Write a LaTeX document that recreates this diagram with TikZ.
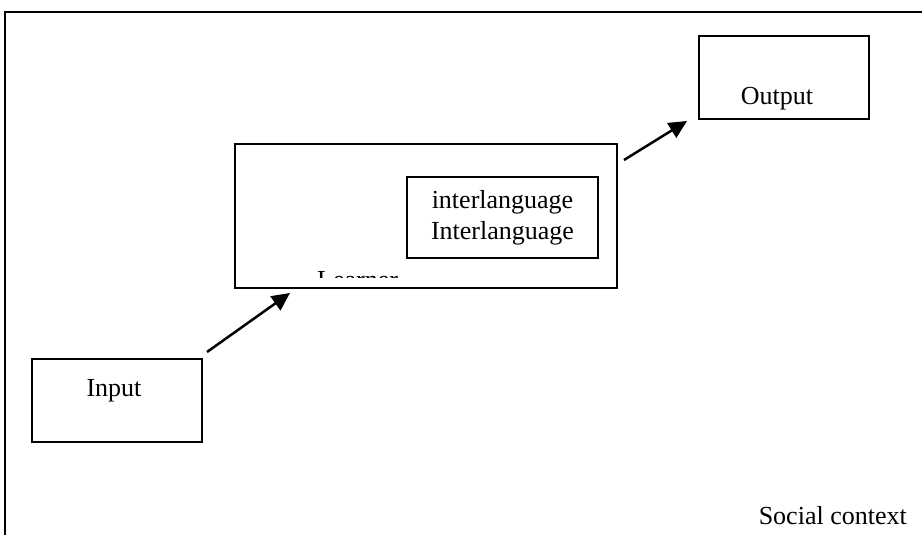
\documentclass[tikz,border=0pt]{standalone}
\usepackage{fontspec}
\setmainfont{Liberation Serif}
\usepackage{tikz}
\usetikzlibrary{arrows.meta,positioning}
\tikzset{
  frameline/.style={black, line width=1.5pt},
  boxnode/.style={draw=black, line width=2pt, inner sep=0pt, minimum width=170pt, minimum height=83pt},
  learnerbox/.style={draw=black, line width=2pt, inner sep=0pt, minimum width=382pt, minimum height=144pt},
  ilbox/.style={draw=black, line width=2pt, align=center, inner sep=0pt, minimum width=191pt, minimum height=81pt},
  label/.style={inner sep=0pt},
  flow/.style={black, line width=2.5pt, -{Triangle[length=18pt,width=17pt]}}
}
\begin{document}
\begin{tikzpicture}[x=1pt,y=1pt,font=\fontsize{26}{31}\selectfont]
  \useasboundingbox (0,0) rectangle (922,535);
  \draw[frameline] (922,523) -- (5,523) -- (5,0);
  \node[boxnode] (inp) at (117,134.5) {};
  \node[label] (inptext) at ([shift={(-3,10)}]inp.center) {Input};
  \node[learnerbox] (learner) at (426,319) {};
  \node[ilbox] (il) at (502.5,317.5) {interlanguage\\Interlanguage};
  \begin{scope}
    \clip (235,257) rectangle (617,391);
    \node[label, anchor=base west] (learnertext) at (317,246) {Learner};
  \end{scope}
  \node[boxnode] (out) at (784,457.5) {};
  \node[label] (outtext) at ([shift={(-7,-21)}]out.center) {Output};
  \node[label, anchor=base east] (social) at (907,10) {Social context};
  \draw[flow] ([shift={(4,6)}]inp.north east) -- ([shift={(56,-4)}]learner.south west);
  \draw[flow] ([shift={(6,-17)}]learner.north east) -- ([shift={(-11,-1)}]out.south west);
\end{tikzpicture}
\end{document}
